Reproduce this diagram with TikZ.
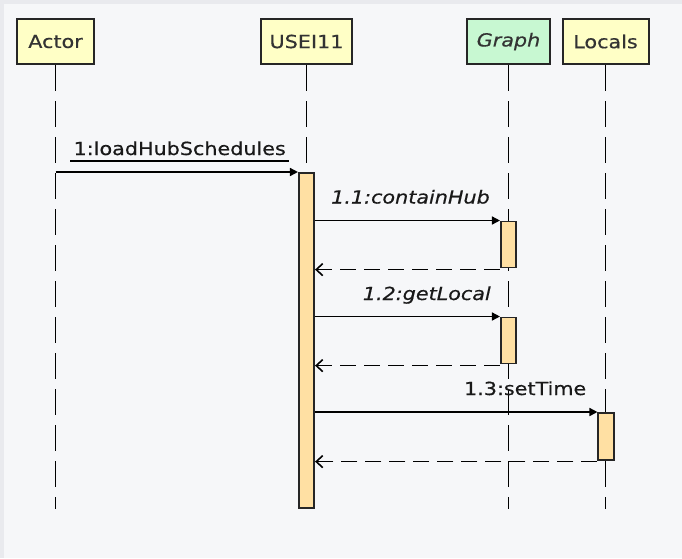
\documentclass[tikz,border=0pt]{standalone}
\usepackage{fontspec}
\setmainfont[FakeStretch=1.15,FakeBold=0.5]{DejaVu Sans}
\usepackage{tikz}
\usetikzlibrary{arrows.meta,calc,positioning}
\definecolor{canvas}{RGB}{246,247,249}
\definecolor{frame}{RGB}{233,234,238}
\definecolor{roleyellow}{RGB}{255,255,198}
\definecolor{rolegreen}{RGB}{200,248,210}
\definecolor{activation}{RGB}{255,224,163}
\definecolor{ink}{RGB}{51,51,51}
\newcommand{\seqfont}{\fontsize{18}{21}\selectfont}

\begin{document}
\begin{tikzpicture}[
  x=1pt, y=1pt,
  font=\seqfont,
  role/.style={draw=black!85, line width=2pt, fill=roleyellow, text=ink, font=\seqfont, minimum height=45.5pt, inner sep=0pt},
  bar/.style={draw=black!85, line width=1.6pt, fill=activation, minimum width=15.5pt, inner sep=0pt, anchor=north},
  life/.style={line width=1.7pt, dash pattern=on 25.5pt off 10.5pt},
  msg/.style={-{Triangle[length=8pt,width=8pt]}, line width=1.6pt},
  ret/.style={-{Straight Barb[length=6.5pt,width=12pt]}, line width=1.6pt, dash pattern=on 16pt off 8pt},
  lbl/.style={anchor=base east, inner sep=0pt, font=\seqfont, text=black!90}
]
\fill[frame] (0,0) rectangle (682,-558);
\fill[canvas] (4,-4) rectangle (682,-558);
\useasboundingbox (0,0) rectangle (682,-558);

% participants
\node[role, minimum width=77.5pt] (actor) at (55.5,-41.5) {Actor};
\node[role, minimum width=91pt] (usei) at (306.5,-41.5) {USEI11};
\node[role, minimum width=83pt, fill=rolegreen, font=\seqfont\itshape] (graph) at (508.5,-41.5) {Graph};
\node[role, minimum width=86pt] (locals) at (605.5,-41.5) {Locals};
\coordinate (bottom) at (0,-509);

% lifelines
\draw[life] (actor.south) -- (actor.south |- bottom);
\draw[life] (usei.south) -- (usei.south |- bottom);
\draw[life] (graph.south) -- (graph.south |- bottom);
\draw[life] (locals.south) -- (locals.south |- bottom);

% activations
\node[bar, minimum height=335pt] (mainbar) at (306.5,-172) {};
\node[bar, minimum height=46pt] (gbarA) at (508.5,-220.5) {};
\node[bar, minimum height=46pt] (gbarB) at (508.5,-316.5) {};
\node[bar, minimum height=47pt] (lbar) at (606,-412) {};

% messages
\draw[msg] (actor.south |- mainbar.north) -- (mainbar.north west);
\node[lbl] (m1) at ($(mainbar.north west)+(-12,17)$) {1:loadHubSchedules};
\draw[line width=1.5pt] ($(m1.base west)+(-3,-6)$) -- ($(m1.base east)+(3,-6)$);

\draw[msg] (mainbar.east |- gbarA.north) -- (gbarA.north west);
\node[lbl, font=\seqfont\itshape] (m11) at ($(gbarA.north west)+(-10,17)$) {1.1:containHub};
\draw[ret] ([yshift=-1.5pt]gbarA.south west) -- ([yshift=-1.5pt]mainbar.east |- gbarA.south);

\draw[msg] (mainbar.east |- gbarB.north) -- (gbarB.north west);
\node[lbl, font=\seqfont\itshape] (m12) at ($(gbarB.north west)+(-9,16.5)$) {1.2:getLocal};
\draw[ret] ([yshift=-1.5pt]gbarB.south west) -- ([yshift=-1.5pt]mainbar.east |- gbarB.south);

\draw[msg] (mainbar.east |- lbar.north) -- (lbar.north west);
\node[lbl] (m13) at ($(lbar.north west)+(-11,17)$) {1.3:setTime};
\draw[ret] ([yshift=-1pt]lbar.south west) -- ([yshift=-1pt]mainbar.east |- lbar.south);
\end{tikzpicture}
\end{document}
